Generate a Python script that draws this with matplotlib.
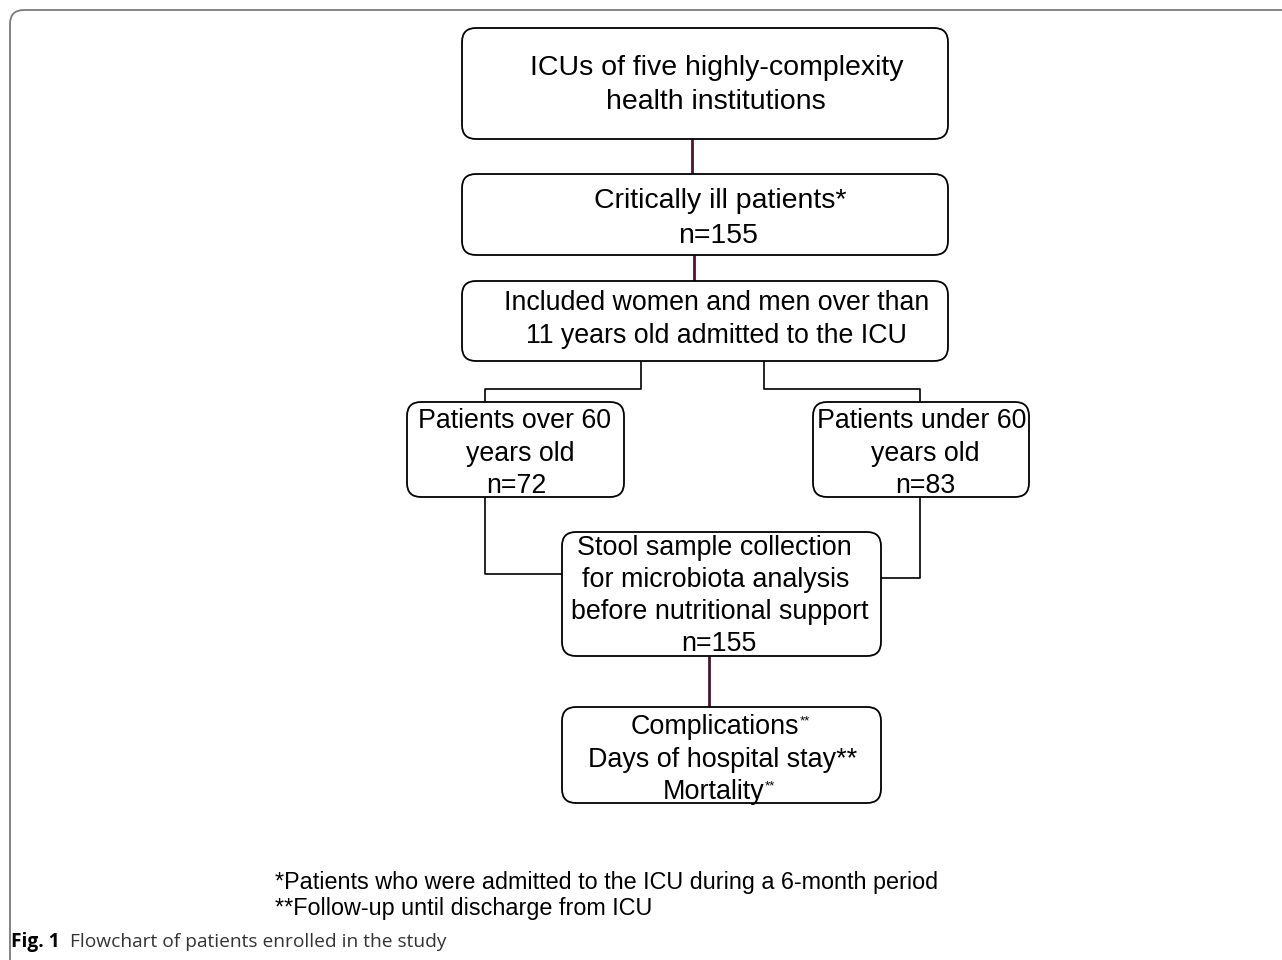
import matplotlib.pyplot as plt
from matplotlib.patches import FancyBboxPatch

# box texts
icu_lines = ["ICUs of five highly-complexity", "health institutions"]
critical_lines = ["Critically ill patients*", "n=155"]
included_lines = ["Included women and men over than", "11 years old admitted to the ICU"]
over60_lines = ["Patients over 60", "years old", "n=72"]
under60_lines = ["Patients under 60", "years old", "n=83"]
stool_lines = ["Stool sample collection", "for microbiota analysis",
               "before nutritional support", "n=155"]
outcome_lines = ["Complications", "Days of hospital stay**", "Mortality"]
outcome_sup = ["**", "", "**"]
footnotes = ["*Patients who were admitted to the ICU during a 6-month period",
             "**Follow-up until discharge from ICU"]
caption_bold = "Fig. 1"
caption_text = "Flowchart of patients enrolled in the study"

plt.rcParams['font.family'] = ['Liberation Sans', 'DejaVu Sans']
PURPLE = '#4b1530'

fig = plt.figure(figsize=(12.82, 9.6), dpi=100)
ax = fig.add_axes([0, 0, 1, 1])
ax.set_xlim(0, 1282)
ax.set_ylim(960, 0)
ax.axis('off')

# outer frame (open at right and bottom)
frame = FancyBboxPatch((10, 10), 1300, 1000, boxstyle="round,pad=0,rounding_size=14",
                       fc='none', ec='#7a7a7a', lw=1.3)
ax.add_patch(frame)


def box(x0, y0, x1, y1, lines, xs, ys, fs, sups=None):
    p = FancyBboxPatch((x0, y0), x1 - x0, y1 - y0, boxstyle="round,pad=0,rounding_size=14",
                       fc='white', ec='black', lw=1.3, zorder=2)
    ax.add_patch(p)
    for i, (s, x, y) in enumerate(zip(lines, xs, ys)):
        t = ax.text(x, y, s, ha='center', va='center', fontsize=fs, zorder=3)
        if sups and sups[i]:
            ax.annotate(sups[i], xy=(1, 0.95), xycoords=t, ha='left', va='top',
                        fontsize=9.5, zorder=3)


def line(xs, ys, color='black', lw=1.2):
    ax.plot(xs, ys, color=color, lw=lw, zorder=1, solid_capstyle='butt')


# connectors
line([692, 692], [139, 174], PURPLE, 2.0)
line([694, 694], [255, 281], PURPLE, 2.0)
line([641, 641, 485, 485], [361, 389, 389, 402])
line([764, 764, 920, 920], [361, 389, 389, 402])
line([485, 485, 562], [497, 574, 574])
line([920, 920, 881], [497, 578, 578])
line([709, 709], [656, 707], PURPLE, 2.0)

box(462, 28, 948, 139, icu_lines, [716.5, 716], [68, 102], 20.5)
box(462, 174, 948, 255, critical_lines, [720, 718], [201, 236], 20.5)
box(462, 281, 948, 361, included_lines, [716.5, 716.5], [303, 336], 19.3)
box(407, 402, 624, 497, over60_lines, [515, 520, 516], [421, 454, 486], 19.3)
box(813, 402, 1029, 497, under60_lines, [922, 925, 925], [421, 454, 486], 19.3)
box(562, 532, 881, 656, stool_lines, [714, 716, 720, 719], [548, 580, 612, 644], 19.4)
box(562, 707, 881, 803, outcome_lines, [715, 723, 714], [727, 760, 792], 19.4,
    sups=outcome_sup)

ax.text(275, 882, footnotes[0], ha='left', va='center', fontsize=16.8)
ax.text(275, 909, footnotes[1], ha='left', va='center', fontsize=16.8)

cb = ax.text(11, 942, caption_bold, ha='left', va='center', fontsize=13.8,
             family=['Open Sans', 'DejaVu Sans'], fontweight='bold')
ax.annotate("  " + caption_text, xy=(1, 0.5), xycoords=cb, ha='left', va='center',
            fontsize=13.8, family=['Open Sans', 'DejaVu Sans'], color='#333333')

fig.savefig('out.png', dpi=100)
